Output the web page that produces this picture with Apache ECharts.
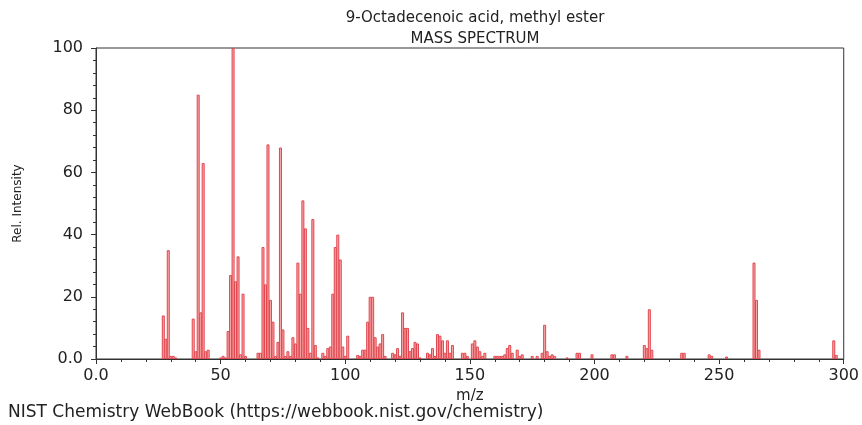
<!DOCTYPE html>
<html>
<head>
<meta charset="utf-8">
<script src="https://cdn.jsdelivr.net/npm/echarts@6/dist/echarts.min.js"></script>
<style>
  html, body { margin: 0; padding: 0; background: #fff; }
  #chart { width: 862px; height: 425px; }
</style>
</head>
<body>
<div id="chart"></div>
<script>
  // m/z 和相对强度
  const mz = [27, 28, 29, 30, 31, 32,
    39, 40, 41, 42, 43, 44, 45,
    50, 51, 52, 53, 54, 55, 56, 57, 58, 59, 60,
    65, 66, 67, 68, 69, 70, 71, 72, 73, 74, 75, 76, 77, 78, 79, 80,
    81, 82, 83, 84, 85, 86, 87, 88, 89, 91, 92, 93, 94, 95, 96, 97, 98, 99, 100, 101,
    105, 106, 107, 108, 109, 110, 111, 112, 113, 114, 115, 116,
    119, 120, 121, 122, 123, 124, 125, 126, 127, 128, 129, 130,
    133, 134, 135, 136, 137, 138, 139, 140, 141, 142, 143,
    147, 148, 149, 151, 152, 153, 154, 155, 156,
    160, 161, 162, 163, 164, 165, 166, 167, 169, 170, 171,
    175, 177, 179, 180, 181, 182, 183, 184,
    189, 193, 194, 199, 207, 208, 213,
    220, 221, 222, 223,
    235, 236, 246, 247, 253,
    264, 265, 266, 296, 297];
  const intensity = [14, 6.5, 35, 1, 1, 0.5,
    13, 2.5, 85, 15, 63, 2.5, 3,
    0.5, 1, 0.5, 9, 27, 100, 25, 33, 1.5, 21, 1,
    2, 2, 36, 24, 69, 19, 12, 1, 5.5, 68, 9.5, 1, 2.5, 1, 7, 5,
    31, 21, 51, 42, 10, 2, 45, 4.5, 0.5, 2, 1, 3.5, 4, 21, 36, 40, 32, 4, 1, 7.5,
    1.3, 1, 3, 3, 12, 20, 20, 7, 4, 5, 8, 1,
    2, 1.5, 3.5, 1, 15, 10, 10, 2.5, 3.5, 5.5, 5, 0.5,
    2, 1.5, 3.5, 1, 8, 7.5, 6, 2, 6, 2, 4.5,
    2, 2, 1, 5, 6, 4, 2.5, 1, 2,
    1, 1, 1, 1, 1.5, 3.5, 4.5, 2, 3, 1, 1.5,
    1, 1, 2, 11, 2.5, 1, 1.5, 1,
    0.5, 2, 2, 1.5, 1.5, 1.5, 1,
    4.5, 3.5, 16, 3,
    2, 2, 1.5, 1, 0.8,
    31, 19, 3, 6, 1.3];

  const font = 'DejaVu Sans';
  const chart = echarts.init(document.getElementById('chart'));
  const option = {
    animation: false,
    title: [
      {text: '9-Octadecenoic acid, methyl ester', left: 470, top: 6, textAlign: 'center',
        textStyle: {fontFamily: font, fontSize: 15, fontWeight: 'normal', color: '#222'}},
      {text: 'MASS SPECTRUM', left: 470, top: 27, textAlign: 'center',
        textStyle: {fontFamily: font, fontSize: 15, fontWeight: 'normal', color: '#222'}}
    ],
    grid: {left: 96, right: 17, top: 48, bottom: 66, show: true, borderColor: '#333', borderWidth: 1},
    xAxis: {
      type: 'value', min: 0, max: 300, interval: 50,
      name: 'm/z', nameLocation: 'middle', nameGap: 28,
      nameTextStyle: {fontFamily: font, fontSize: 15, color: '#222'},
      axisLine: {lineStyle: {color: '#333'}},
      axisTick: {show: true, length: 5, lineStyle: {color: '#333'}},
      minorTick: {show: true, splitNumber: 5, length: 3, lineStyle: {color: '#333'}},
      splitLine: {show: false},
      axisLabel: {fontFamily: font, fontSize: 16, color: '#222', margin: 9,
        formatter: v => v === 0 ? '0.0' : String(v)}
    },
    yAxis: {
      type: 'value', min: 0, max: 100, interval: 20,
      name: 'Rel. Intensity', nameLocation: 'middle', nameGap: 72, nameRotate: 90,
      nameTextStyle: {fontFamily: font, fontSize: 12, color: '#222'},
      axisLine: {show: true, lineStyle: {color: '#333'}},
      axisTick: {show: true, length: 5, lineStyle: {color: '#333'}},
      minorTick: {show: true, splitNumber: 5, length: 3, lineStyle: {color: '#333'}},
      splitLine: {show: false},
      axisLabel: {fontFamily: font, fontSize: 16, color: '#222', margin: 13,
        formatter: v => v === 0 ? '0.0' : String(v)}
    },
    graphic: [{
      type: 'text', left: 8, top: 404,
      style: {text: 'NIST Chemistry WebBook (https://webbook.nist.gov/chemistry)',
        font: '17px "DejaVu Sans"', fill: '#222'}
    }],
    series: [{
      type: 'bar',
      barWidth: 3,
      data: mz.map((m, i) => [m, intensity[i]]),
      itemStyle: {color: '#f7a9a9', borderColor: '#e2464f', borderWidth: 1}
    }]
  };
  chart.setOption(option);
</script>
</body>
</html>
